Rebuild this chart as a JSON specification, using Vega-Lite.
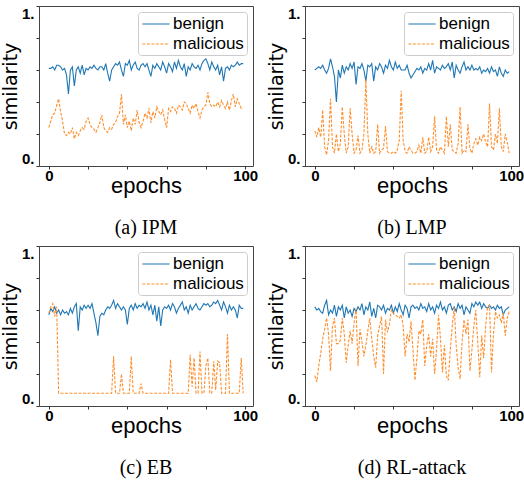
{
"$schema": "https://vega.github.io/schema/vega-lite/v6.json",
"padding": {"left": 0, "top": 5, "right": 0, "bottom": 0},
"background": "white",
"datasets": {
"a": [
{"e":0,"benign":0.61,"malicious":0.24},{"e":1,"benign":0.61,"malicious":0.28},{"e":2,"benign":0.62,"malicious":0.32},{"e":3,"benign":0.60,"malicious":0.33},{"e":4,"benign":0.63,"malicious":0.38},
{"e":5,"benign":0.63,"malicious":0.42},{"e":6,"benign":0.62,"malicious":0.34},{"e":7,"benign":0.60,"malicious":0.28},{"e":8,"benign":0.61,"malicious":0.20},{"e":9,"benign":0.57,"malicious":0.19},
{"e":10,"benign":0.45,"malicious":0.21},{"e":11,"benign":0.60,"malicious":0.20},{"e":12,"benign":0.62,"malicious":0.24},{"e":13,"benign":0.50,"malicious":0.17},{"e":14,"benign":0.60,"malicious":0.21},
{"e":15,"benign":0.62,"malicious":0.19},{"e":16,"benign":0.58,"malicious":0.22},{"e":17,"benign":0.63,"malicious":0.24},{"e":18,"benign":0.57,"malicious":0.23},{"e":19,"benign":0.61,"malicious":0.28},
{"e":20,"benign":0.60,"malicious":0.30},{"e":21,"benign":0.62,"malicious":0.26},{"e":22,"benign":0.61,"malicious":0.24},{"e":23,"benign":0.63,"malicious":0.23},{"e":24,"benign":0.61,"malicious":0.21},
{"e":25,"benign":0.60,"malicious":0.24},{"e":26,"benign":0.62,"malicious":0.27},{"e":27,"benign":0.62,"malicious":0.32},{"e":28,"benign":0.60,"malicious":0.24},{"e":29,"benign":0.64,"malicious":0.22},
{"e":30,"benign":0.58,"malicious":0.21},{"e":31,"benign":0.53,"malicious":0.24},{"e":32,"benign":0.60,"malicious":0.23},{"e":33,"benign":0.62,"malicious":0.26},{"e":34,"benign":0.64,"malicious":0.27},
{"e":35,"benign":0.63,"malicious":0.31},{"e":36,"benign":0.65,"malicious":0.33},{"e":37,"benign":0.60,"malicious":0.45},{"e":38,"benign":0.56,"malicious":0.26},{"e":39,"benign":0.64,"malicious":0.32},
{"e":40,"benign":0.63,"malicious":0.24},{"e":41,"benign":0.66,"malicious":0.28},{"e":42,"benign":0.60,"malicious":0.22},{"e":43,"benign":0.63,"malicious":0.30},{"e":44,"benign":0.65,"malicious":0.26},
{"e":45,"benign":0.61,"malicious":0.35},{"e":46,"benign":0.60,"malicious":0.27},{"e":47,"benign":0.63,"malicious":0.24},{"e":48,"benign":0.64,"malicious":0.28},{"e":49,"benign":0.62,"malicious":0.33},
{"e":50,"benign":0.64,"malicious":0.30},{"e":51,"benign":0.60,"malicious":0.36},{"e":52,"benign":0.56,"malicious":0.27},{"e":53,"benign":0.63,"malicious":0.34},{"e":54,"benign":0.61,"malicious":0.30},
{"e":55,"benign":0.64,"malicious":0.37},{"e":56,"benign":0.62,"malicious":0.34},{"e":57,"benign":0.60,"malicious":0.32},{"e":58,"benign":0.65,"malicious":0.35},{"e":59,"benign":0.62,"malicious":0.29},
{"e":60,"benign":0.58,"malicious":0.24},{"e":61,"benign":0.64,"malicious":0.36},{"e":62,"benign":0.62,"malicious":0.34},{"e":63,"benign":0.59,"malicious":0.37},{"e":64,"benign":0.65,"malicious":0.36},
{"e":65,"benign":0.61,"malicious":0.33},{"e":66,"benign":0.66,"malicious":0.38},{"e":67,"benign":0.62,"malicious":0.37},{"e":68,"benign":0.60,"malicious":0.35},{"e":69,"benign":0.64,"malicious":0.40},
{"e":70,"benign":0.56,"malicious":0.39},{"e":71,"benign":0.62,"malicious":0.36},{"e":72,"benign":0.60,"malicious":0.33},{"e":73,"benign":0.64,"malicious":0.38},{"e":74,"benign":0.62,"malicious":0.36},
{"e":75,"benign":0.61,"malicious":0.39},{"e":76,"benign":0.63,"malicious":0.34},{"e":77,"benign":0.60,"malicious":0.30},{"e":78,"benign":0.64,"malicious":0.35},{"e":79,"benign":0.66,"malicious":0.37},
{"e":80,"benign":0.67,"malicious":0.38},{"e":81,"benign":0.64,"malicious":0.46},{"e":82,"benign":0.60,"malicious":0.39},{"e":83,"benign":0.65,"malicious":0.37},{"e":84,"benign":0.62,"malicious":0.38},
{"e":85,"benign":0.60,"malicious":0.37},{"e":86,"benign":0.63,"malicious":0.40},{"e":87,"benign":0.57,"malicious":0.37},{"e":88,"benign":0.62,"malicious":0.41},{"e":89,"benign":0.53,"malicious":0.38},
{"e":90,"benign":0.61,"malicious":0.36},{"e":91,"benign":0.62,"malicious":0.40},{"e":92,"benign":0.60,"malicious":0.35},{"e":93,"benign":0.63,"malicious":0.41},{"e":94,"benign":0.62,"malicious":0.45},
{"e":95,"benign":0.63,"malicious":0.37},{"e":96,"benign":0.65,"malicious":0.42},{"e":97,"benign":0.63,"malicious":0.39},{"e":98,"benign":0.64,"malicious":0.36},{"e":99,"benign":0.64,"malicious":0.36}
],
"b": [
{"e":0,"benign":0.60,"malicious":0.22},{"e":1,"benign":0.61,"malicious":0.18},{"e":2,"benign":0.62,"malicious":0.24},{"e":3,"benign":0.61,"malicious":0.18},{"e":4,"benign":0.63,"malicious":0.35},
{"e":5,"benign":0.60,"malicious":0.12},{"e":6,"benign":0.58,"malicious":0.07},{"e":7,"benign":0.61,"malicious":0.16},{"e":8,"benign":0.67,"malicious":0.42},{"e":9,"benign":0.62,"malicious":0.12},
{"e":10,"benign":0.56,"malicious":0.08},{"e":11,"benign":0.40,"malicious":0.20},{"e":12,"benign":0.60,"malicious":0.09},{"e":13,"benign":0.55,"malicious":0.14},{"e":14,"benign":0.63,"malicious":0.37},
{"e":15,"benign":0.58,"malicious":0.20},{"e":16,"benign":0.62,"malicious":0.08},{"e":17,"benign":0.60,"malicious":0.12},{"e":18,"benign":0.64,"malicious":0.36},{"e":19,"benign":0.61,"malicious":0.20},
{"e":20,"benign":0.65,"malicious":0.08},{"e":21,"benign":0.51,"malicious":0.10},{"e":22,"benign":0.62,"malicious":0.19},{"e":23,"benign":0.61,"malicious":0.08},{"e":24,"benign":0.64,"malicious":0.10},
{"e":25,"benign":0.60,"malicious":0.20},{"e":26,"benign":0.53,"malicious":0.54},{"e":27,"benign":0.63,"malicious":0.20},{"e":28,"benign":0.62,"malicious":0.08},{"e":29,"benign":0.64,"malicious":0.12},
{"e":30,"benign":0.53,"malicious":0.08},{"e":31,"benign":0.62,"malicious":0.09},{"e":32,"benign":0.60,"malicious":0.26},{"e":33,"benign":0.64,"malicious":0.08},{"e":34,"benign":0.62,"malicious":0.10},
{"e":35,"benign":0.58,"malicious":0.11},{"e":36,"benign":0.63,"malicious":0.25},{"e":37,"benign":0.61,"malicious":0.09},{"e":38,"benign":0.66,"malicious":0.08},{"e":39,"benign":0.62,"malicious":0.08},
{"e":40,"benign":0.60,"malicious":0.09},{"e":41,"benign":0.65,"malicious":0.08},{"e":42,"benign":0.61,"malicious":0.10},{"e":43,"benign":0.63,"malicious":0.16},{"e":44,"benign":0.60,"malicious":0.47},
{"e":45,"benign":0.60,"malicious":0.16},{"e":46,"benign":0.60,"malicious":0.09},{"e":47,"benign":0.63,"malicious":0.08},{"e":48,"benign":0.58,"malicious":0.12},{"e":49,"benign":0.55,"malicious":0.10},
{"e":50,"benign":0.57,"malicious":0.08},{"e":51,"benign":0.59,"malicious":0.08},{"e":52,"benign":0.61,"malicious":0.09},{"e":53,"benign":0.60,"malicious":0.13},{"e":54,"benign":0.62,"malicious":0.08},
{"e":55,"benign":0.58,"malicious":0.18},{"e":56,"benign":0.61,"malicious":0.08},{"e":57,"benign":0.60,"malicious":0.09},{"e":58,"benign":0.64,"malicious":0.18},{"e":59,"benign":0.60,"malicious":0.09},
{"e":60,"benign":0.66,"malicious":0.12},{"e":61,"benign":0.58,"malicious":0.31},{"e":62,"benign":0.62,"malicious":0.10},{"e":63,"benign":0.61,"malicious":0.08},{"e":64,"benign":0.60,"malicious":0.12},
{"e":65,"benign":0.63,"malicious":0.10},{"e":66,"benign":0.61,"malicious":0.08},{"e":67,"benign":0.62,"malicious":0.31},{"e":68,"benign":0.64,"malicious":0.12},{"e":69,"benign":0.60,"malicious":0.26},
{"e":70,"benign":0.65,"malicious":0.10},{"e":71,"benign":0.55,"malicious":0.09},{"e":72,"benign":0.63,"malicious":0.08},{"e":73,"benign":0.60,"malicious":0.14},{"e":74,"benign":0.58,"malicious":0.37},
{"e":75,"benign":0.62,"malicious":0.08},{"e":76,"benign":0.65,"malicious":0.10},{"e":77,"benign":0.60,"malicious":0.09},{"e":78,"benign":0.62,"malicious":0.26},{"e":79,"benign":0.60,"malicious":0.11},
{"e":80,"benign":0.63,"malicious":0.08},{"e":81,"benign":0.60,"malicious":0.14},{"e":82,"benign":0.61,"malicious":0.17},{"e":83,"benign":0.60,"malicious":0.13},{"e":84,"benign":0.62,"malicious":0.18},
{"e":85,"benign":0.58,"malicious":0.16},{"e":86,"benign":0.60,"malicious":0.20},{"e":87,"benign":0.59,"malicious":0.15},{"e":88,"benign":0.61,"malicious":0.12},{"e":89,"benign":0.58,"malicious":0.39},
{"e":90,"benign":0.62,"malicious":0.12},{"e":91,"benign":0.59,"malicious":0.10},{"e":92,"benign":0.60,"malicious":0.20},{"e":93,"benign":0.56,"malicious":0.14},{"e":94,"benign":0.62,"malicious":0.36},
{"e":95,"benign":0.58,"malicious":0.12},{"e":96,"benign":0.56,"malicious":0.09},{"e":97,"benign":0.60,"malicious":0.20},{"e":98,"benign":0.58,"malicious":0.15},{"e":99,"benign":0.59,"malicious":0.08}
],
"c": [
{"e":0,"benign":0.57,"malicious":0.58},{"e":1,"benign":0.61,"malicious":0.62},{"e":2,"benign":0.59,"malicious":0.64},{"e":3,"benign":0.62,"malicious":0.56},{"e":4,"benign":0.58,"malicious":0.62},
{"e":5,"benign":0.60,"malicious":0.08},{"e":6,"benign":0.57,"malicious":0.08},{"e":7,"benign":0.60,"malicious":0.08},{"e":8,"benign":0.58,"malicious":0.08},{"e":9,"benign":0.59,"malicious":0.08},
{"e":10,"benign":0.57,"malicious":0.08},{"e":11,"benign":0.61,"malicious":0.08},{"e":12,"benign":0.58,"malicious":0.08},{"e":13,"benign":0.62,"malicious":0.08},{"e":14,"benign":0.64,"malicious":0.08},
{"e":15,"benign":0.47,"malicious":0.08},{"e":16,"benign":0.62,"malicious":0.08},{"e":17,"benign":0.60,"malicious":0.08},{"e":18,"benign":0.63,"malicious":0.08},{"e":19,"benign":0.61,"malicious":0.08},
{"e":20,"benign":0.63,"malicious":0.08},{"e":21,"benign":0.61,"malicious":0.08},{"e":22,"benign":0.64,"malicious":0.08},{"e":23,"benign":0.58,"malicious":0.08},{"e":24,"benign":0.52,"malicious":0.08},
{"e":25,"benign":0.44,"malicious":0.08},{"e":26,"benign":0.56,"malicious":0.08},{"e":27,"benign":0.58,"malicious":0.08},{"e":28,"benign":0.57,"malicious":0.08},{"e":29,"benign":0.60,"malicious":0.08},
{"e":30,"benign":0.62,"malicious":0.08},{"e":31,"benign":0.61,"malicious":0.08},{"e":32,"benign":0.63,"malicious":0.08},{"e":33,"benign":0.66,"malicious":0.31},{"e":34,"benign":0.61,"malicious":0.08},
{"e":35,"benign":0.64,"malicious":0.08},{"e":36,"benign":0.62,"malicious":0.08},{"e":37,"benign":0.60,"malicious":0.20},{"e":38,"benign":0.62,"malicious":0.08},{"e":39,"benign":0.60,"malicious":0.08},
{"e":40,"benign":0.51,"malicious":0.08},{"e":41,"benign":0.61,"malicious":0.08},{"e":42,"benign":0.63,"malicious":0.31},{"e":43,"benign":0.60,"malicious":0.08},{"e":44,"benign":0.64,"malicious":0.08},
{"e":45,"benign":0.61,"malicious":0.08},{"e":46,"benign":0.63,"malicious":0.08},{"e":47,"benign":0.62,"malicious":0.14},{"e":48,"benign":0.64,"malicious":0.08},{"e":49,"benign":0.61,"malicious":0.08},
{"e":50,"benign":0.65,"malicious":0.08},{"e":51,"benign":0.60,"malicious":0.08},{"e":52,"benign":0.63,"malicious":0.08},{"e":53,"benign":0.57,"malicious":0.08},{"e":54,"benign":0.63,"malicious":0.08},
{"e":55,"benign":0.53,"malicious":0.08},{"e":56,"benign":0.62,"malicious":0.08},{"e":57,"benign":0.50,"malicious":0.08},{"e":58,"benign":0.60,"malicious":0.08},{"e":59,"benign":0.62,"malicious":0.08},
{"e":60,"benign":0.61,"malicious":0.08},{"e":61,"benign":0.63,"malicious":0.08},{"e":62,"benign":0.60,"malicious":0.29},{"e":63,"benign":0.64,"malicious":0.08},{"e":64,"benign":0.62,"malicious":0.08},
{"e":65,"benign":0.58,"malicious":0.08},{"e":66,"benign":0.61,"malicious":0.08},{"e":67,"benign":0.63,"malicious":0.08},{"e":68,"benign":0.65,"malicious":0.08},{"e":69,"benign":0.60,"malicious":0.08},
{"e":70,"benign":0.62,"malicious":0.08},{"e":71,"benign":0.58,"malicious":0.08},{"e":72,"benign":0.63,"malicious":0.32},{"e":73,"benign":0.60,"malicious":0.12},{"e":74,"benign":0.62,"malicious":0.30},
{"e":75,"benign":0.64,"malicious":0.08},{"e":76,"benign":0.61,"malicious":0.08},{"e":77,"benign":0.60,"malicious":0.34},{"e":78,"benign":0.62,"malicious":0.08},{"e":79,"benign":0.64,"malicious":0.08},
{"e":80,"benign":0.63,"malicious":0.25},{"e":81,"benign":0.64,"malicious":0.30},{"e":82,"benign":0.62,"malicious":0.08},{"e":83,"benign":0.63,"malicious":0.08},{"e":84,"benign":0.65,"malicious":0.28},
{"e":85,"benign":0.64,"malicious":0.10},{"e":86,"benign":0.66,"malicious":0.28},{"e":87,"benign":0.63,"malicious":0.27},{"e":88,"benign":0.60,"malicious":0.08},{"e":89,"benign":0.65,"malicious":0.08},
{"e":90,"benign":0.62,"malicious":0.08},{"e":91,"benign":0.58,"malicious":0.45},{"e":92,"benign":0.63,"malicious":0.08},{"e":93,"benign":0.60,"malicious":0.08},{"e":94,"benign":0.62,"malicious":0.08},
{"e":95,"benign":0.60,"malicious":0.08},{"e":96,"benign":0.55,"malicious":0.08},{"e":97,"benign":0.63,"malicious":0.08},{"e":98,"benign":0.61,"malicious":0.30},{"e":99,"benign":0.61,"malicious":0.08}
],
"d": [
{"e":0,"benign":0.62,"malicious":0.19},{"e":1,"benign":0.60,"malicious":0.15},{"e":2,"benign":0.61,"malicious":0.25},{"e":3,"benign":0.59,"malicious":0.33},{"e":4,"benign":0.58,"malicious":0.42},
{"e":5,"benign":0.63,"malicious":0.48},{"e":6,"benign":0.66,"malicious":0.55},{"e":7,"benign":0.57,"malicious":0.45},{"e":8,"benign":0.60,"malicious":0.22},{"e":9,"benign":0.58,"malicious":0.50},
{"e":10,"benign":0.63,"malicious":0.55},{"e":11,"benign":0.56,"malicious":0.39},{"e":12,"benign":0.62,"malicious":0.39},{"e":13,"benign":0.60,"malicious":0.41},{"e":14,"benign":0.63,"malicious":0.55},
{"e":15,"benign":0.55,"malicious":0.45},{"e":16,"benign":0.62,"malicious":0.27},{"e":17,"benign":0.58,"malicious":0.38},{"e":18,"benign":0.60,"malicious":0.47},{"e":19,"benign":0.56,"malicious":0.39},
{"e":20,"benign":0.61,"malicious":0.52},{"e":21,"benign":0.59,"malicious":0.61},{"e":22,"benign":0.62,"malicious":0.25},{"e":23,"benign":0.60,"malicious":0.48},{"e":24,"benign":0.64,"malicious":0.40},
{"e":25,"benign":0.57,"malicious":0.31},{"e":26,"benign":0.62,"malicious":0.38},{"e":27,"benign":0.60,"malicious":0.47},{"e":28,"benign":0.65,"malicious":0.55},{"e":29,"benign":0.56,"malicious":0.42},
{"e":30,"benign":0.61,"malicious":0.31},{"e":31,"benign":0.55,"malicious":0.24},{"e":32,"benign":0.63,"malicious":0.44},{"e":33,"benign":0.62,"malicious":0.50},{"e":34,"benign":0.60,"malicious":0.56},
{"e":35,"benign":0.63,"malicious":0.20},{"e":36,"benign":0.58,"malicious":0.54},{"e":37,"benign":0.61,"malicious":0.46},{"e":38,"benign":0.60,"malicious":0.51},{"e":39,"benign":0.63,"malicious":0.60},
{"e":40,"benign":0.58,"malicious":0.58},{"e":41,"benign":0.62,"malicious":0.57},{"e":42,"benign":0.59,"malicious":0.56},{"e":43,"benign":0.64,"malicious":0.55},{"e":44,"benign":0.60,"malicious":0.57},
{"e":45,"benign":0.57,"malicious":0.50},{"e":46,"benign":0.63,"malicious":0.31},{"e":47,"benign":0.61,"malicious":0.45},{"e":48,"benign":0.55,"malicious":0.40},{"e":49,"benign":0.62,"malicious":0.53},
{"e":50,"benign":0.63,"malicious":0.35},{"e":51,"benign":0.61,"malicious":0.16},{"e":52,"benign":0.62,"malicious":0.30},{"e":53,"benign":0.60,"malicious":0.47},{"e":54,"benign":0.64,"malicious":0.45},
{"e":55,"benign":0.61,"malicious":0.54},{"e":56,"benign":0.62,"malicious":0.25},{"e":57,"benign":0.59,"malicious":0.38},{"e":58,"benign":0.64,"malicious":0.45},{"e":59,"benign":0.60,"malicious":0.31},
{"e":60,"benign":0.62,"malicious":0.42},{"e":61,"benign":0.58,"malicious":0.20},{"e":62,"benign":0.63,"malicious":0.35},{"e":63,"benign":0.61,"malicious":0.57},{"e":64,"benign":0.65,"malicious":0.42},
{"e":65,"benign":0.60,"malicious":0.21},{"e":66,"benign":0.62,"malicious":0.38},{"e":67,"benign":0.58,"malicious":0.19},{"e":68,"benign":0.63,"malicious":0.16},{"e":69,"benign":0.64,"malicious":0.35},
{"e":70,"benign":0.60,"malicious":0.50},{"e":71,"benign":0.62,"malicious":0.62},{"e":72,"benign":0.59,"malicious":0.38},{"e":73,"benign":0.64,"malicious":0.24},{"e":74,"benign":0.61,"malicious":0.17},
{"e":75,"benign":0.63,"malicious":0.40},{"e":76,"benign":0.57,"malicious":0.54},{"e":77,"benign":0.62,"malicious":0.45},{"e":78,"benign":0.60,"malicious":0.54},{"e":79,"benign":0.58,"malicious":0.22},
{"e":80,"benign":0.64,"malicious":0.35},{"e":81,"benign":0.62,"malicious":0.50},{"e":82,"benign":0.65,"malicious":0.60},{"e":83,"benign":0.63,"malicious":0.40},{"e":84,"benign":0.65,"malicious":0.18},
{"e":85,"benign":0.61,"malicious":0.44},{"e":86,"benign":0.64,"malicious":0.30},{"e":87,"benign":0.62,"malicious":0.50},{"e":88,"benign":0.61,"malicious":0.62},{"e":89,"benign":0.63,"malicious":0.63},
{"e":90,"benign":0.61,"malicious":0.21},{"e":91,"benign":0.62,"malicious":0.45},{"e":92,"benign":0.60,"malicious":0.59},{"e":93,"benign":0.63,"malicious":0.55},{"e":94,"benign":0.61,"malicious":0.57},
{"e":95,"benign":0.62,"malicious":0.52},{"e":96,"benign":0.57,"malicious":0.58},{"e":97,"benign":0.60,"malicious":0.44},{"e":98,"benign":0.61,"malicious":0.55},{"e":99,"benign":0.62,"malicious":0.59}
]
},
"columns": 2,
"spacing": {"row": 6, "column": 7},
"concat": [
{"data": {"name": "a"}, "title": {"text": "(a) IPM"}, "width": 214, "height": 160,
 "transform": [{"fold": ["benign", "malicious"], "as": ["series", "value"]}],
 "mark": {"type": "line", "strokeWidth": 1.1},
 "encoding": {
  "x": {"field": "e", "type": "quantitative", "scale": {"domain": [-5, 104], "nice": false, "zero": false}, "axis": {"values": [0, 20, 40, 60, 80, 100], "labelExpr": "datum.value == 0 || datum.value == 100 ? datum.label : ''", "title": "epochs"}},
  "y": {"field": "value", "type": "quantitative", "scale": {"domain": [0, 1], "nice": false}, "axis": {"values": [0, 0.2, 0.4, 0.6, 0.8, 1], "labelExpr": "datum.value == 0 ? '0.' : datum.value == 1 ? '1.' : ''", "labelFlush": true, "title": "similarity"}},
  "color": {"field": "series", "type": "nominal", "scale": {"domain": ["benign", "malicious"], "range": ["#1f77b4", "#ff8f2e"]}, "legend": {"title": null}},
  "strokeDash": {"field": "series", "type": "nominal", "scale": {"domain": ["benign", "malicious"], "range": [[1, 0], [3, 1.5]]}, "legend": {"title": null}}
 }},
{"data": {"name": "b"}, "title": {"text": "(b) LMP"}, "width": 214, "height": 160,
 "transform": [{"fold": ["benign", "malicious"], "as": ["series", "value"]}],
 "mark": {"type": "line", "strokeWidth": 1.1},
 "encoding": {
  "x": {"field": "e", "type": "quantitative", "scale": {"domain": [-5, 104], "nice": false, "zero": false}, "axis": {"values": [0, 20, 40, 60, 80, 100], "labelExpr": "datum.value == 0 || datum.value == 100 ? datum.label : ''", "title": "epochs"}},
  "y": {"field": "value", "type": "quantitative", "scale": {"domain": [0, 1], "nice": false}, "axis": {"values": [0, 0.2, 0.4, 0.6, 0.8, 1], "labelExpr": "datum.value == 0 ? '0.' : datum.value == 1 ? '1.' : ''", "labelFlush": true, "title": "similarity"}},
  "color": {"field": "series", "type": "nominal", "scale": {"domain": ["benign", "malicious"], "range": ["#1f77b4", "#ff8f2e"]}, "legend": {"title": null}},
  "strokeDash": {"field": "series", "type": "nominal", "scale": {"domain": ["benign", "malicious"], "range": [[1, 0], [3, 1.5]]}, "legend": {"title": null}}
 }},
{"data": {"name": "c"}, "title": {"text": "(c) EB"}, "width": 214, "height": 160,
 "transform": [{"fold": ["benign", "malicious"], "as": ["series", "value"]}],
 "mark": {"type": "line", "strokeWidth": 1.1},
 "encoding": {
  "x": {"field": "e", "type": "quantitative", "scale": {"domain": [-5, 104], "nice": false, "zero": false}, "axis": {"values": [0, 20, 40, 60, 80, 100], "labelExpr": "datum.value == 0 || datum.value == 100 ? datum.label : ''", "title": "epochs"}},
  "y": {"field": "value", "type": "quantitative", "scale": {"domain": [0, 1], "nice": false}, "axis": {"values": [0, 0.2, 0.4, 0.6, 0.8, 1], "labelExpr": "datum.value == 0 ? '0.' : datum.value == 1 ? '1.' : ''", "labelFlush": true, "title": "similarity"}},
  "color": {"field": "series", "type": "nominal", "scale": {"domain": ["benign", "malicious"], "range": ["#1f77b4", "#ff8f2e"]}, "legend": {"title": null}},
  "strokeDash": {"field": "series", "type": "nominal", "scale": {"domain": ["benign", "malicious"], "range": [[1, 0], [3, 1.5]]}, "legend": {"title": null}}
 }},
{"data": {"name": "d"}, "title": {"text": "(d) RL-attack"}, "width": 214, "height": 160,
 "transform": [{"fold": ["benign", "malicious"], "as": ["series", "value"]}],
 "mark": {"type": "line", "strokeWidth": 1.1},
 "encoding": {
  "x": {"field": "e", "type": "quantitative", "scale": {"domain": [-5, 104], "nice": false, "zero": false}, "axis": {"values": [0, 20, 40, 60, 80, 100], "labelExpr": "datum.value == 0 || datum.value == 100 ? datum.label : ''", "title": "epochs"}},
  "y": {"field": "value", "type": "quantitative", "scale": {"domain": [0, 1], "nice": false}, "axis": {"values": [0, 0.2, 0.4, 0.6, 0.8, 1], "labelExpr": "datum.value == 0 ? '0.' : datum.value == 1 ? '1.' : ''", "labelFlush": true, "title": "similarity"}},
  "color": {"field": "series", "type": "nominal", "scale": {"domain": ["benign", "malicious"], "range": ["#1f77b4", "#ff8f2e"]}, "legend": {"title": null}},
  "strokeDash": {"field": "series", "type": "nominal", "scale": {"domain": ["benign", "malicious"], "range": [[1, 0], [3, 1.5]]}, "legend": {"title": null}}
 }}
],
"resolve": {"scale": {"color": "independent", "strokeDash": "independent"}, "legend": {"color": "independent", "strokeDash": "independent"}},
"config": {
 "font": "Liberation Sans",
 "view": {"stroke": "#444", "strokeWidth": 1},
 "axis": {"grid": false, "domain": false, "ticks": true, "tickColor": "#333", "tickSize": 3, "labelPadding": 2, "labelFont": "Liberation Sans", "labelFontSize": 15, "labelFontWeight": "bold", "labelColor": "black", "titleFont": "Liberation Sans", "titleFontWeight": "normal", "titleColor": "black"},
 "axisX": {"titleFontSize": 22, "titlePadding": -8, "labelPadding": -1},
 "axisY": {"titleFontSize": 19, "titleFont": "DejaVu Sans", "titlePadding": 1},
 "legend": {"orient": "top-right", "offset": 6, "padding": 3, "strokeColor": "#ccc", "fillColor": "white", "cornerRadius": 3, "labelFont": "Liberation Sans", "labelFontSize": 17, "labelColor": "black", "labelOffset": 8, "symbolOffset": 6, "symbolType": "M-1.7,0H1.7", "symbolSize": 256, "symbolStrokeWidth": 1.2, "rowPadding": 3},
 "title": {"orient": "bottom", "anchor": "middle", "font": "Liberation Serif", "fontSize": 20, "fontWeight": "normal", "color": "black", "offset": 22}
}
}
